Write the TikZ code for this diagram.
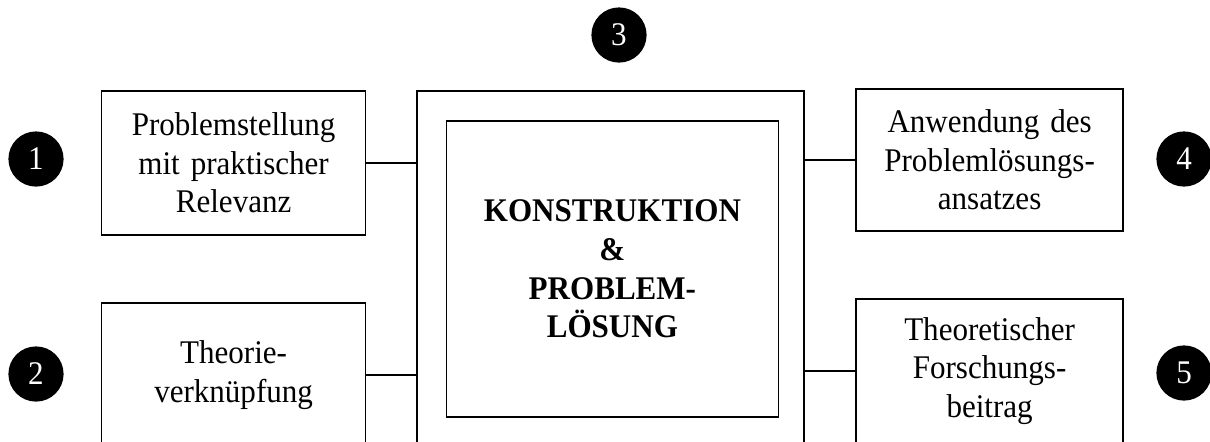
\documentclass[tikz,border=0pt]{standalone}
\usepackage{fontspec}
\setmainfont[FakeStretch=0.94]{Liberation Serif}
\begin{document}
\begin{tikzpicture}[
        box/.style = {rectangle, draw=black, line width=1.1pt, inner sep=0pt, align=center, font=\fontsize{23.5}{27.5}\selectfont},
        side/.style = {box, text width=6.6cm, minimum height=3.6cm},
        core/.style = {box, text width=8.3cm, minimum height=7.4cm, font=\fontsize{23.5}{27.5}\selectfont\bfseries},
        frame/.style = {rectangle, draw=black, line width=1.1pt, minimum width=9.675cm, minimum height=8.9cm},
        num/.style = {circle, fill=black, text=white, inner sep=0pt, minimum size=1.38cm, font=\fontsize{23.5}{26}\selectfont},
        link/.style = {line width=1.1pt}
    ]
    \useasboundingbox (0, 0) rectangle (30.25, -11.025);
    \clip (0, 0) rectangle (30.25, -11.025);

    % ================= MITTE =================
    \node[frame] (outer) at (15.26, -6.725) {};
    \node[core] (kern) at (15.31, -6.725) {KONSTRUKTION \\ \& \\ PROBLEM- \\ LÖSUNG};
    \node[num] (n3) at (15.475, -0.875) {3};

    % ================= LINKS =================
    \node[side] (prob) at (5.84, -4.075) {Problemstellung \\ mit praktischer \\ Relevanz};
    \node[side] (theo) at (5.84, -9.375) {Theorie- \\ verknüpfung};
    \node[num] (n1) at (0.9, -3.975) {1};
    \node[num] (n2) at (0.9, -9.35) {2};
    %
    \draw[link] (prob.east) -- (prob.east -| outer.west);
    \draw[link] (theo.east) -- (theo.east -| outer.west);

    % ================= RECHTS =================
    \node[side, text width=6.675cm, minimum height=3.55cm] (anw) at (24.74, -4.0) {Anwendung des \\ Problemlösungs- \\ ansatzes};
    \node[side, text width=6.675cm] (beit) at (24.74, -9.275) {Theoretischer \\ Forschungs- \\ beitrag};
    \node[num] (n4) at (29.6, -3.975) {4};
    \node[num] (n5) at (29.6, -9.325) {5};
    %
    \draw[link] (outer.east |- anw.west) -- (anw.west);
    \draw[link] (outer.east |- beit.west) -- (beit.west);

    \end{tikzpicture}
\end{document}
